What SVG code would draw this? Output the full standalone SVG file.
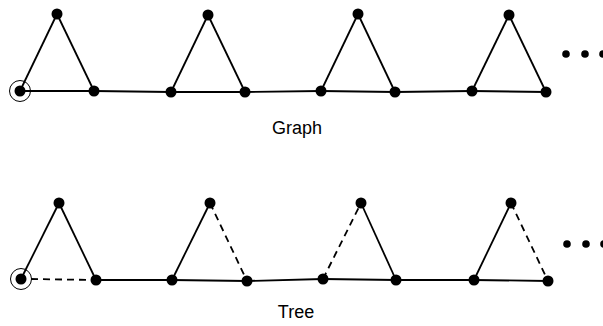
<svg xmlns="http://www.w3.org/2000/svg" width="603" height="326" viewBox="0 0 603 326">
<style>
.e{stroke:#000;stroke-width:1.8;fill:none}
.d{stroke-dasharray:7,5}
.n{fill:#000}
.ring{fill:none;stroke:#000;stroke-width:1}
.t{font-family:"Liberation Sans",Arial,sans-serif;font-size:18px;fill:#000}
</style>
<rect width="603" height="326" fill="#fff"/>
<g id="connectors">
<line class="e" x1="20" y1="91" x2="57" y2="14"/>
<line class="e" x1="57" y1="14" x2="94" y2="91"/>
<line class="e" x1="20" y1="91" x2="94" y2="91"/>
<line class="e" x1="94" y1="91" x2="171" y2="92"/>
<line class="e" x1="171" y1="92" x2="208" y2="15"/>
<line class="e" x1="208" y1="15" x2="245" y2="92"/>
<line class="e" x1="171" y1="92" x2="245" y2="92"/>
<line class="e" x1="245" y1="92" x2="321" y2="91"/>
<line class="e" x1="321" y1="91" x2="358" y2="14"/>
<line class="e" x1="358" y1="14" x2="395" y2="92"/>
<line class="e" x1="321" y1="91" x2="395" y2="92"/>
<line class="e" x1="395" y1="92" x2="472" y2="91"/>
<line class="e" x1="472" y1="91" x2="509" y2="15"/>
<line class="e" x1="509" y1="15" x2="546" y2="92"/>
<line class="e" x1="472" y1="91" x2="546" y2="92"/>

<line class="e" x1="21" y1="279" x2="59" y2="203"/>
<line class="e" x1="59" y1="203" x2="96" y2="280"/>
<line class="e d" x1="31" y1="279" x2="96" y2="280"/>
<line class="e" x1="96" y1="280" x2="172" y2="280"/>
<line class="e" x1="172" y1="280" x2="210" y2="203"/>
<line class="e d" x1="210" y1="203" x2="247" y2="281"/>
<line class="e" x1="172" y1="280" x2="247" y2="281"/>
<line class="e" x1="247" y1="281" x2="323" y2="279"/>
<line class="e d" x1="323" y1="279" x2="361" y2="203"/>
<line class="e" x1="361" y1="203" x2="396" y2="280"/>
<line class="e" x1="323" y1="279" x2="396" y2="280"/>
<line class="e" x1="396" y1="280" x2="474" y2="280"/>
<line class="e" x1="474" y1="280" x2="511" y2="203"/>
<line class="e d" x1="511" y1="203" x2="548" y2="281"/>
<line class="e" x1="474" y1="280" x2="548" y2="281"/>
</g>
<g id="graph-nodes">
<circle id="g-root-ring" class="ring" cx="20" cy="91" r="10.5"/>
<g id="g1"><circle class="n" cx="20" cy="91" r="5.5"/></g>
<g id="g2"><circle class="n" cx="57" cy="14" r="5.5"/></g>
<g id="g3"><circle class="n" cx="94" cy="91" r="5.5"/></g>
<g id="g4"><circle class="n" cx="171" cy="92" r="5.5"/></g>
<g id="g5"><circle class="n" cx="208" cy="15" r="5.5"/></g>
<g id="g6"><circle class="n" cx="245" cy="92" r="5.5"/></g>
<g id="g7"><circle class="n" cx="321" cy="91" r="5.5"/></g>
<g id="g8"><circle class="n" cx="358" cy="14" r="5.5"/></g>
<g id="g9"><circle class="n" cx="395" cy="92" r="5.5"/></g>
<g id="g10"><circle class="n" cx="472" cy="91" r="5.5"/></g>
<g id="g11"><circle class="n" cx="509" cy="15" r="5.5"/></g>
<g id="g12"><circle class="n" cx="546" cy="92" r="5.5"/></g>
<g id="g-ellipsis"><circle class="n" cx="566" cy="54" r="3.8"/><circle class="n" cx="585" cy="54" r="3.8"/><circle class="n" cx="603" cy="54" r="3.8"/></g>
</g>
<g id="tree-nodes">
<circle id="t-root-ring" class="ring" cx="21" cy="279" r="10.5"/>
<g id="t1"><circle class="n" cx="21" cy="279" r="5.5"/></g>
<g id="t2"><circle class="n" cx="59" cy="203" r="5.5"/></g>
<g id="t3"><circle class="n" cx="96" cy="280" r="5.5"/></g>
<g id="t4"><circle class="n" cx="172" cy="280" r="5.5"/></g>
<g id="t5"><circle class="n" cx="210" cy="203" r="5.5"/></g>
<g id="t6"><circle class="n" cx="247" cy="281" r="5.5"/></g>
<g id="t7"><circle class="n" cx="323" cy="279" r="5.5"/></g>
<g id="t8"><circle class="n" cx="361" cy="203" r="5.5"/></g>
<g id="t9"><circle class="n" cx="396" cy="280" r="5.5"/></g>
<g id="t10"><circle class="n" cx="474" cy="280" r="5.5"/></g>
<g id="t11"><circle class="n" cx="511" cy="203" r="5.5"/></g>
<g id="t12"><circle class="n" cx="548" cy="281" r="5.5"/></g>
<g id="t-ellipsis"><circle class="n" cx="567" cy="244" r="3.8"/><circle class="n" cx="586" cy="244" r="3.8"/><circle class="n" cx="604" cy="244" r="3.8"/></g>
</g>
<g id="labels">
<text class="t" x="297" y="134" text-anchor="middle">Graph</text>
<text class="t" x="296" y="318" text-anchor="middle">Tree</text>
</g>
</svg>
